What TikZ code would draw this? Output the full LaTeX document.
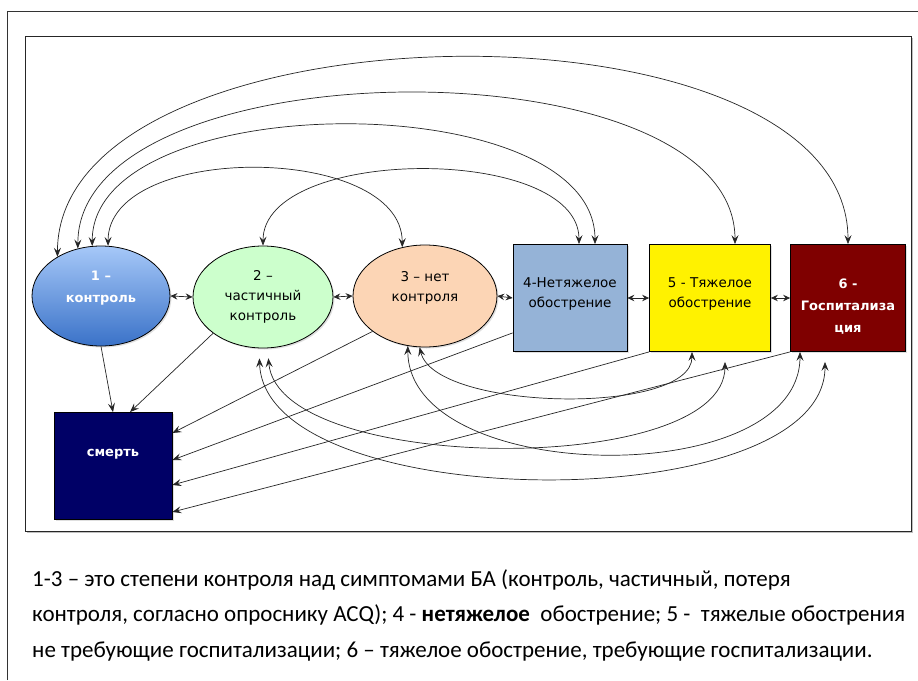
\documentclass[tikz,border=0pt]{standalone}
\usepackage{fontspec}
\setmainfont{Carlito}
\newfontfamily\boxfont{DejaVu Sans}
\usetikzlibrary{arrows.meta,shapes.geometric,shadows}

\definecolor{ctrldark}{HTML}{3A72C8}
\definecolor{ctrllight}{HTML}{A6C8F8}
\definecolor{partgreen}{HTML}{CCFFCC}
\definecolor{nopeach}{HTML}{FCD5B5}
\definecolor{mildblue}{HTML}{95B3D7}
\definecolor{hospred}{HTML}{7F0000}
\definecolor{deathnavy}{HTML}{000066}

\begin{document}
\begin{tikzpicture}[x=1pt,y=-1pt,
    stage/.style={ellipse,draw=black,line width=0.8pt,minimum width=140pt,minimum height=102pt,
      inner sep=0pt,align=center,font=\boxfont\fontsize{13.5}{20}\selectfont,
      drop shadow={opacity=0.25,shadow xshift=1.5pt,shadow yshift=-1.5pt}},
    crisis/.style={rectangle,draw=black,line width=0.8pt,minimum width=115pt,minimum height=107pt,
      inner sep=0pt,align=center,font=\boxfont\fontsize{13.5}{20}\selectfont,
      drop shadow={opacity=0.25,shadow xshift=1.5pt,shadow yshift=-1.5pt}},
    boldtext/.style={text=white,font=\boxfont\bfseries\fontsize{13}{22}\selectfont},
    tip/.tip={Stealth[length=9pt,width=7pt,inset=3.5pt]},
    smalltip/.tip={Stealth[length=7pt,width=6.5pt,inset=2.5pt]},
    link/.style={draw=black!85,line width=0.7pt,tip-tip},
    nearlink/.style={draw=black!85,line width=0.7pt,smalltip-smalltip},
    todeath/.style={draw=black!85,line width=0.7pt,-tip},
    legend/.style={anchor=base west,inner sep=0pt,font=\fontsize{23}{27}\selectfont}
  ]
  \useasboundingbox (0,0) rectangle (918,680);

  % frames
  \draw[line width=1pt,black!80] (7,680) -- (7,11) -- (918,11);
  \fill[black!25] (27,38) rectangle (913,533);
  \filldraw[fill=white,draw=black!85,line width=1pt] (25,36) rectangle (911,531);

  % states
  \node[stage,top color=ctrllight,bottom color=ctrldark,boldtext,minimum width=138pt,minimum height=100pt,
    text depth=19pt] (n1) at (101,296) {1 –\\контроль};
  \node[stage,fill=partgreen] (n2) at (263,297) {2 –\\частичный\\контроль};
  \node[stage,fill=nopeach,minimum width=144pt,text depth=19pt] (n3) at (425,296) {3 – нет\\контроля};
  \node[crisis,fill=mildblue,minimum width=114pt,text depth=10pt] (n4) at (570,298) {4-Нетяжелое\\обострение};
  \node[crisis,fill=yellow,minimum width=121pt,text depth=11pt] (n5) at (710,298) {5 - Тяжелое\\обострение};
  \node[crisis,fill=hospred,boldtext] (n6) at (848,298) {\\[5pt]6 -\\Госпитализа\\ция};
  \node[crisis,fill=deathnavy,boldtext,minimum width=118pt,
    text height=9pt,text depth=28pt] (smert) at (113,466) {смерть};

  % neighbours
  \draw[nearlink] (n1.east) -- (n2.west);
  \draw[nearlink] (n2.east) -- (n3.west);
  \draw[nearlink] (n3.east) -- (n4.west);
  \draw[nearlink] (n4.east) -- (n5.west);
  \draw[nearlink] (n5.east) -- (n6.west);

  % upper arcs
  \draw[link] (n1.138) .. controls +(0,-257) and +(0,-257) .. (n6.north);
  \draw[link] (n1.116) .. controls +(0,-204) and +(0,-204) .. ([xshift=25pt]n5.north);
  \draw[link] (n1.100) .. controls +(0,-160) and +(0,-160) .. ([xshift=25pt]n4.north);
  \draw[link] (n1.82) .. controls +(0,-104) and +(0,-104) .. (n3.115);
  \draw[link] (n2.north) .. controls +(0,-100) and +(0,-100) .. ([xshift=9pt]n4.north);

  % lower arcs
  \draw[link] (n3.264) .. controls +(15,64) and +(0,64) .. ([xshift=-18pt]n5.south);
  \draw[link] (n3.251) .. controls +(0,140) and +(0,140) .. ([xshift=-48pt]n6.south);
  \draw[link] ([yshift=-10pt]n2.276) .. controls +(10,116) and +(0,116) .. ([xshift=15pt,yshift=-10pt]n5.south);
  \draw[link] ([yshift=-10pt]n2.266) .. controls +(5,158) and +(0,158) .. ([xshift=-23pt,yshift=-10pt]n6.south);

  % to death
  \draw[todeath] (n1.south) -- (smert.north);
  \draw[todeath] (n2.216) -- ([xshift=17pt]smert.north);
  \draw[todeath] (n3.214) -- ([yshift=33pt]smert.east);
  \draw[todeath] ([yshift=19pt]n4.south west) -- ([yshift=6pt]smert.east);
  \draw[todeath] (n5.south west) -- ([yshift=-19pt]smert.east);
  \draw[todeath] (n6.south west) -- ([yshift=-46pt]smert.east);

  % legend
  \node[legend] (legend1) at (32,586) {1-3 – это степени контроля над симптомами БА (контроль, частичный, потеря};
  \node[legend] (legend2) at (32,621) {контроля, согласно опроснику ACQ); 4 - \textbf{нетяжелое}\ \ обострение; 5 -\ \ тяжелые обострения};
  \node[legend] (legend3) at (32,657) {не требующие госпитализации; 6 – тяжелое обострение, требующие госпитализации.};
\end{tikzpicture}
\end{document}
